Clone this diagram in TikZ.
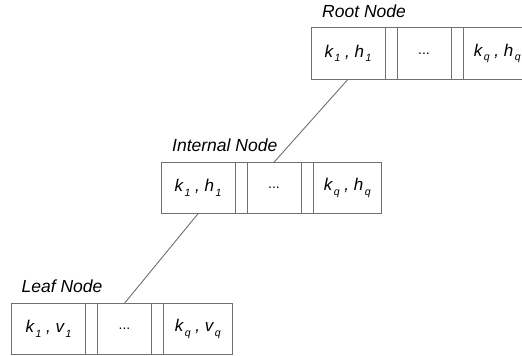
\documentclass[tikz,border=0pt]{standalone}
\usepackage{fontspec}
\setmainfont{Liberation Sans}
\usetikzlibrary{positioning}
\definecolor{linegray}{RGB}{112,112,112}
\newcommand{\cellsub}[1]{\hspace{1.5pt}\raisebox{-4.5pt}{\fontsize{10.5}{12}\selectfont #1}}

\begin{document}
\begin{tikzpicture}[x=1pt, y=1pt,
    cell/.style={draw=linegray, line width=0.9pt, minimum height=51.5pt,
        inner sep=0pt, outer sep=0pt, font=\fontsize{17}{20}\selectfont\itshape},
    firstcell/.style={cell, minimum width=74pt},
    gapcell/.style={cell, minimum width=12pt},
    dotcell/.style={cell, minimum width=54pt, font=\fontsize{14}{20}\selectfont},
    lastcell/.style={cell, minimum width=68.5pt},
    nodetitle/.style={inner sep=0pt, font=\fontsize{17.5}{20}\selectfont\itshape},
    link/.style={draw=linegray, line width=0.9pt}
]

    \useasboundingbox (0,0) rectangle (522,-356);

% Root node

    \node[firstcell] (r1) at (348,-53.5) {k\cellsub{1} , h\cellsub{1}};
    \node[gapcell, right=0pt of r1] (r2) {};
    \node[dotcell, right=0pt of r2] (r3) {...};
    \node[gapcell, right=0pt of r3] (r4) {};
    \node[lastcell, right=0pt of r4] (r5) {k\cellsub{q} , h\cellsub{q}};
    \node[nodetitle, above right=10pt and 11pt of r1.north west] (rt) {Root Node};

% Internal node

    \node[firstcell] (i1) at (198,-188) {k\cellsub{1} , h\cellsub{1}};
    \node[gapcell, right=0pt of i1] (i2) {};
    \node[dotcell, right=0pt of i2] (i3) {...};
    \node[gapcell, right=0pt of i3] (i4) {};
    \node[lastcell, right=0pt of i4] (i5) {k\cellsub{q} , h\cellsub{q}};
    \node[nodetitle, above right=10pt and 11pt of i1.north west] (it) {Internal Node};

% Leaf node

    \node[firstcell] (l1) at (48.5,-329) {k\cellsub{1} , v\cellsub{1}};
    \node[gapcell, right=0pt of l1] (l2) {};
    \node[dotcell, right=0pt of l2] (l3) {...};
    \node[gapcell, right=0pt of l3] (l4) {};
    \node[lastcell, right=0pt of l4] (l5) {k\cellsub{q} , v\cellsub{q}};
    \node[nodetitle, above right=10pt and 10pt of l1.north west] (lt) {Leaf Node};

% Links

    \draw[link] (r1.south) -- (i3.north);
    \draw[link] (i1.south) -- (l3.north);

\end{tikzpicture}
\end{document}
